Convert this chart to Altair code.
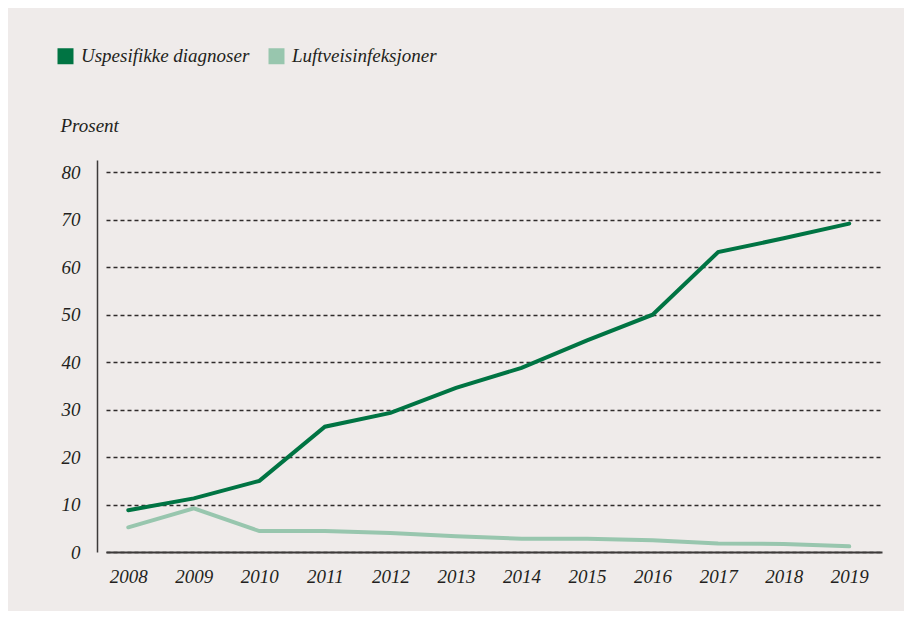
import altair as alt
import pandas as pd

years = list(range(2008, 2020))
uspesifikke = [8.8, 11.3, 15.0, 26.4, 29.3, 34.6, 38.8, 44.6, 50.0, 63.2, 66.1, 69.2]
luftvei = [5.2, 9.2, 4.4, 4.4, 4.0, 3.3, 2.8, 2.8, 2.5, 1.8, 1.7, 1.2]
series_names = ["Uspesifikke diagnoser", "Luftveisinfeksjoner"]
series_colors = ["#007443", "#98C6AE"]
y_ticks = [0, 10, 20, 30, 40, 50, 60, 70, 80]

rows = []
for name, vals in zip(series_names, [uspesifikke, luftvei]):
    for yr, v in zip(years, vals):
        rows.append({"År": yr, "Prosent": v, "Serie": name, "Forklaring": name})
df = pd.DataFrame(rows)

FONT = "Liberation Serif"
TXT = "#231f20"

x_enc = alt.X("År:Q",
              scale=alt.Scale(domain=[2007.66, 2019.5], nice=False, zero=False),
              axis=alt.Axis(values=years, format="d", title=None, grid=False,
                            ticks=False, domainColor="#3d3a3a", domainWidth=2,
                            labelFont=FONT, labelFontStyle="italic", labelFontSize=19,
                            labelColor=TXT, labelPadding=15))
y_enc = alt.Y("Prosent:Q",
              scale=alt.Scale(domain=[0, 82.6], nice=False),
              axis=alt.Axis(values=y_ticks, title="Prosent", titleAngle=0, titleAlign="left",
                            titleBaseline="alphabetic", titleX=-37, titleY=-29,
                            titleFont=FONT, titleFontStyle="italic", titleFontWeight="normal",
                            titleFontSize=19, titleColor=TXT,
                            offset=9, ticks=False, domainColor="#3d3a3a", domainWidth=1.5,
                            grid=True, gridColor="#2f2b2b", gridDash=[4, 3], gridWidth=1.5,
                            labelFont=FONT, labelFontStyle="italic", labelFontSize=19,
                            labelColor=TXT, labelPadding=17))

base = alt.Chart(df)

legend_layer = base.mark_square(opacity=0, size=256).encode(
    x=x_enc, y=y_enc,
    fill=alt.Fill("Forklaring:N",
                  scale=alt.Scale(domain=series_names, range=series_colors),
                  sort=series_names,
                  legend=alt.Legend(title=None, orient="none", direction="horizontal",
                                    legendX=-50, legendY=-113.5,
                                    symbolType="square", symbolSize=256,
                                    symbolStrokeWidth=0, symbolOpacity=1,
                                    labelFont=FONT, labelFontStyle="italic", labelFontSize=19,
                                    labelColor=TXT, labelOffset=6, columnPadding=17,
                                    labelLimit=400, padding=0)),
)

lines = base.mark_line(strokeWidth=4, strokeCap="round", strokeJoin="miter").encode(
    x=x_enc, y=y_enc,
    color=alt.Color("Serie:N",
                    scale=alt.Scale(domain=series_names, range=series_colors),
                    sort=series_names, legend=None),
)

chart = alt.layer(legend_layer, lines).properties(
    width=776, height=392,
    background="#EFEBEA",
    padding={"left": 98, "top": 152, "right": 22, "bottom": 59},
    autosize=alt.AutoSizeParams(type="none"),
).configure_view(stroke=None)

chart.save("out.html", embed_options={"renderer": "svg", "actions": False})
